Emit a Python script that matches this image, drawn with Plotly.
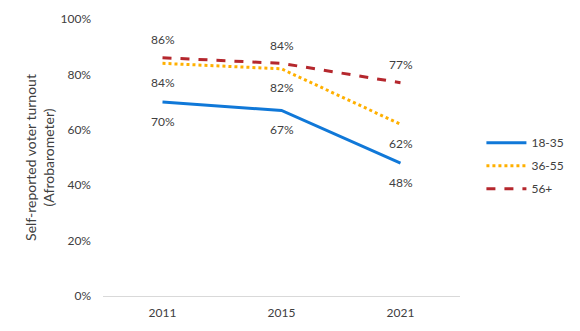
import plotly.graph_objects as go

years = ["2011", "2015", "2021"]
series_names = ["18-35", "36-55", "56+"]
v_18_35 = [70, 67, 48]
v_36_55 = [84, 82, 62]
v_56p = [86, 84, 77]
y_ticks = [0, 20, 40, 60, 80, 100]
y_tick_labels = ["0%", "20%", "40%", "60%", "80%", "100%"]

colors = ["#1078D8", "#FFB000", "#B5272D"]
dashes = ["solid", "dot", "dash"]
label_shift = [-19, -19, 18]

font = "Lato, 'Open Sans', sans-serif"
fig = go.Figure()
for name, vals, c, d in zip(series_names, [v_18_35, v_36_55, v_56p], colors, dashes):
    fig.add_trace(go.Scatter(x=years, y=vals, name=name, mode="lines", legendgroup=name,
                             line=dict(color=c, width=3, dash=d)))

annotations = []
for vals, s in zip([v_18_35, v_36_55, v_56p], label_shift):
    for i, v in enumerate(vals):
        annotations.append(dict(x=i, y=v, xref="x", yref="y", text=f"{v}%", showarrow=False,
                                yshift=s, font=dict(size=12, color="#404040", family=font)))

fig.update_layout(
    width=580, height=331,
    margin=dict(l=103, r=114, t=11, b=33),
    paper_bgcolor="white", plot_bgcolor="white",
    font=dict(family=font, size=12, color="#404040"),
    annotations=annotations,
    showlegend=True,
    legend=dict(x=1.06, y=0.47, xanchor="left", yanchor="middle",
                font=dict(size=12, color="#404040"), tracegroupgap=4,
                itemwidth=40),
    xaxis=dict(type="category", range=[-0.5, 2.5], showgrid=False, showline=True,
               linecolor="#D9D9D9", linewidth=1, ticks="",
               tickfont=dict(size=12, color="#404040"), zeroline=False,
               ticklabelstandoff=6),
    yaxis=dict(range=[0, 100], tickvals=y_ticks, ticktext=y_tick_labels,
               showgrid=False, zeroline=False, showline=False, ticks="",
               ticklabelstandoff=11,
               tickfont=dict(size=12, color="#404040"),
               title=dict(text="Self-reported voter turnout<br>(Afrobarometer)",
                          font=dict(size=14, color="#404040"), standoff=2)),
)
fig.write_html("out.html")
